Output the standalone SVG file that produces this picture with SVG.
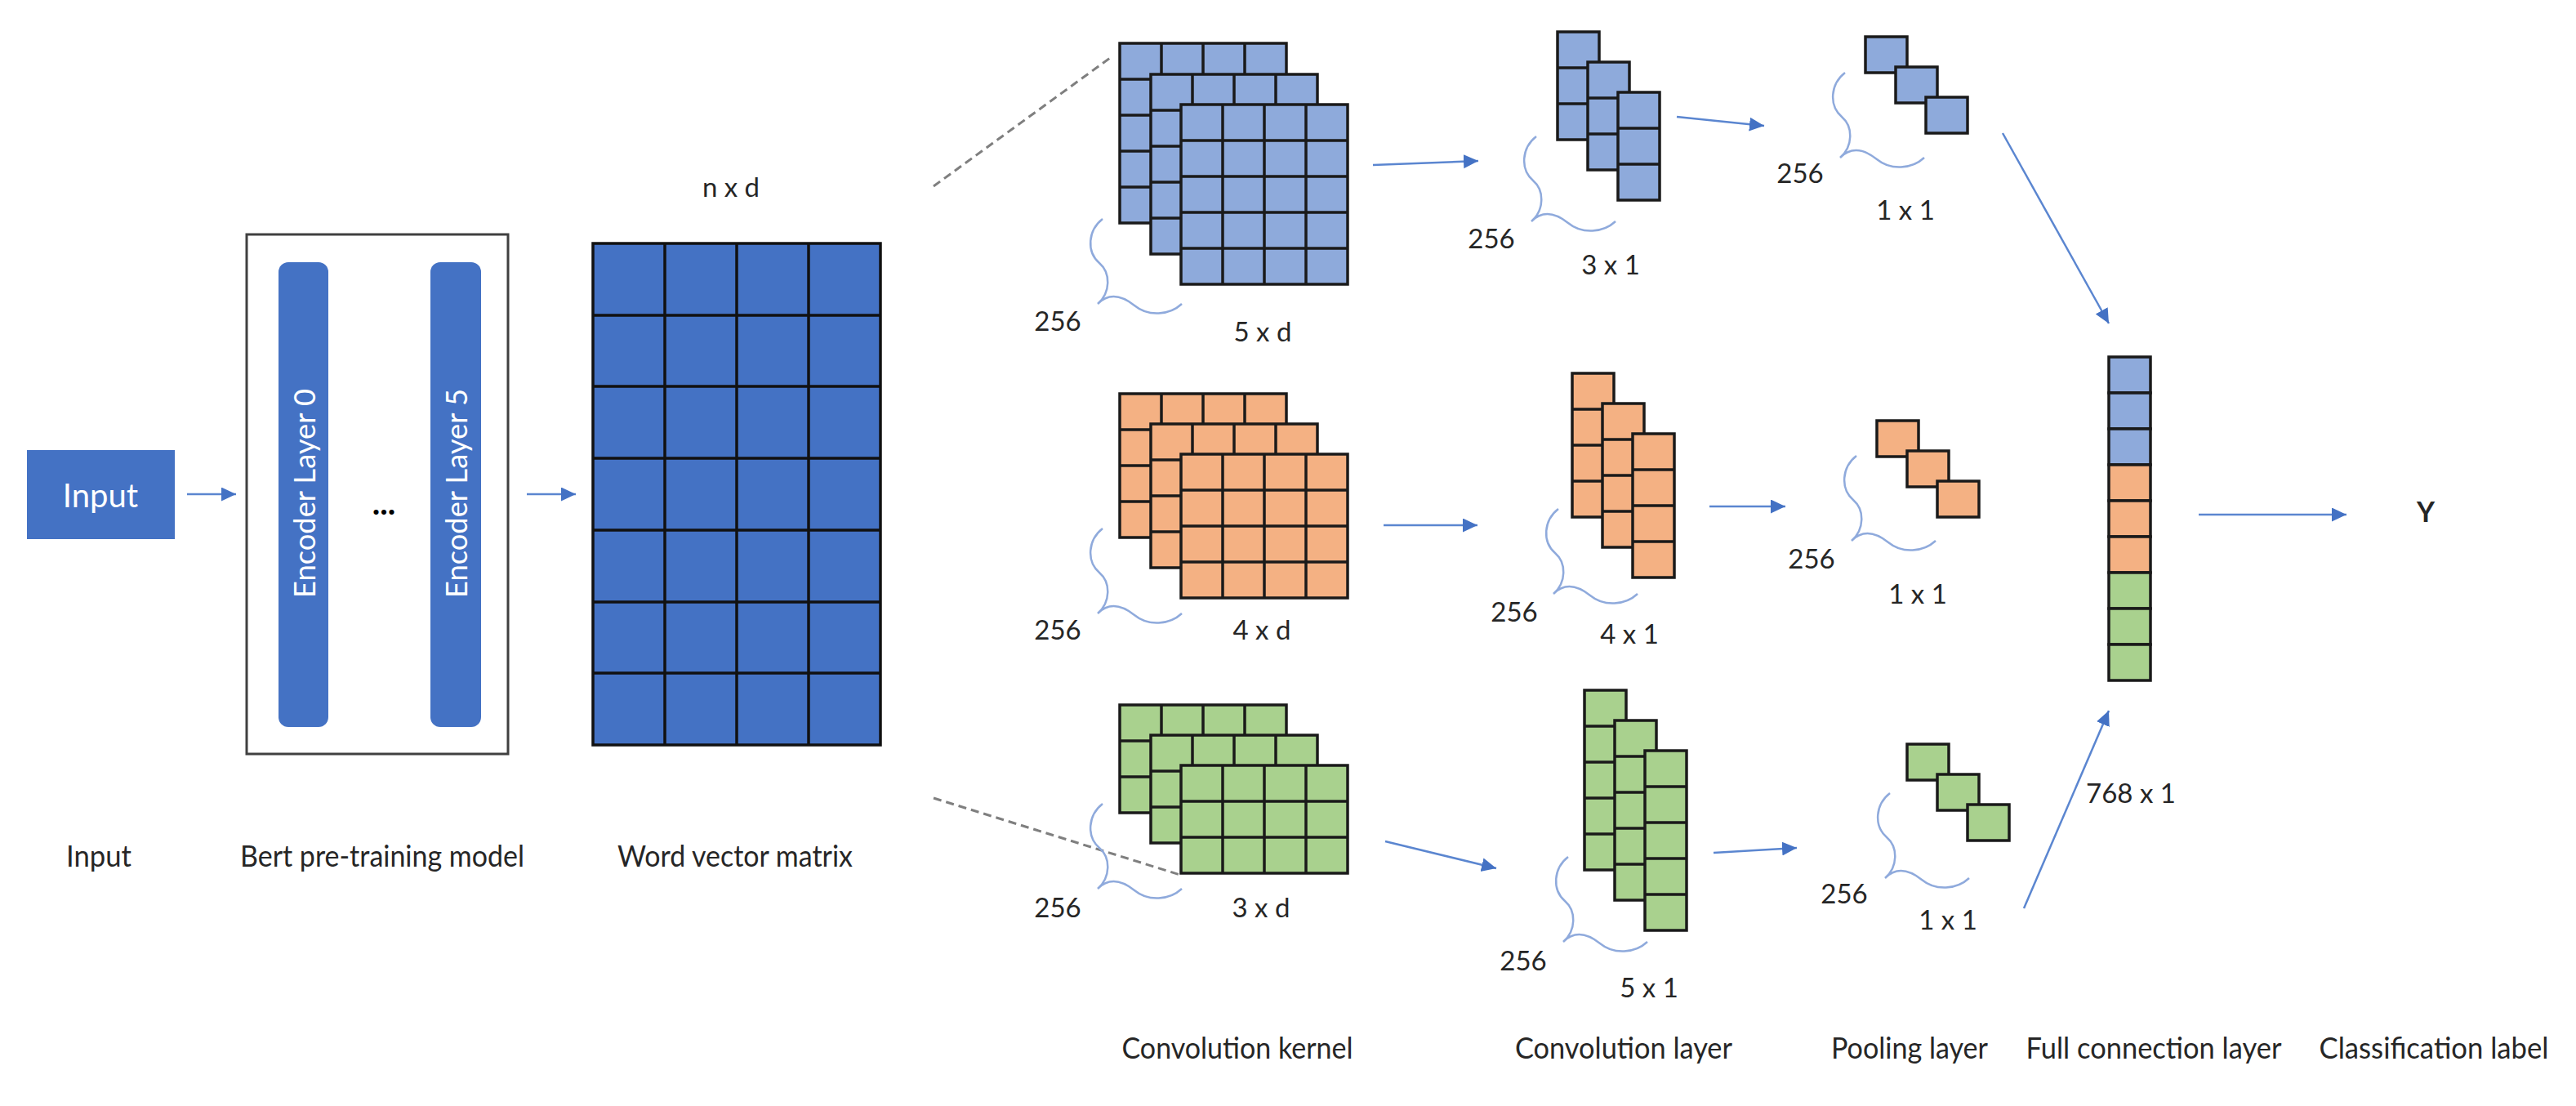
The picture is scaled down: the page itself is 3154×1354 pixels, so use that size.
<svg xmlns="http://www.w3.org/2000/svg" xmlns:xlink="http://www.w3.org/1999/xlink" width="3154" height="1354" viewBox="0 0 3154 1354">
<style>
text{font-family:Lato,"Open Sans","Liberation Sans",sans-serif;fill:#262626}
.lbl{font-size:36px;text-anchor:middle}
.num{font-size:33px;text-anchor:middle}
.wt{fill:#ffffff}
.cell{stroke:#1a1a1a;stroke-width:3.5}
.blue{fill:#8EAADB}
.orange{fill:#F4B183}
.green{fill:#A9D18E}
.conn{stroke:#5B86D0;stroke-width:2.5;fill:none}
.brace{stroke:#8FAADC;stroke-width:2.5;fill:none}
.dash{stroke:#7F7F7F;stroke-width:3;stroke-dasharray:10 6;fill:none}
</style>
<defs>
<marker id="ah" markerUnits="userSpaceOnUse" markerWidth="20" markerHeight="18" refX="18" refY="8.5" orient="auto">
<path d="M0,0 L18,8.5 L0,17 z" fill="#4472C4"/>
</marker>
<g id="k5" class="cell"><rect x="0" y="0" width="204" height="220"/><path d="M51,0V220M102,0V220M153,0V220M0,44H204M0,88H204M0,132H204M0,176H204"/></g>
<g id="k4" class="cell"><rect x="0" y="0" width="204" height="176"/><path d="M51,0V176M102,0V176M153,0V176M0,44H204M0,88H204M0,132H204"/></g>
<g id="k3" class="cell"><rect x="0" y="0" width="204" height="132"/><path d="M51,0V132M102,0V132M153,0V132M0,44H204M0,88H204"/></g>
<g id="c3" class="cell"><rect x="0" y="0" width="51" height="132"/><path d="M0,44H51M0,88H51"/></g>
<g id="c4" class="cell"><rect x="0" y="0" width="51" height="176"/><path d="M0,44H51M0,88H51M0,132H51"/></g>
<g id="c5" class="cell"><rect x="0" y="0" width="51" height="220"/><path d="M0,44H51M0,88H51M0,132H51M0,176H51"/></g>
<rect id="sq" class="cell" x="0" y="0" width="51" height="44"/>
<path id="br" class="brace" d="M6,-104 C-12,-90 -14,-64 2,-50 C16,-38 16,-14 0,0 C14,-14 30,-10 45,2 C62,16 88,14 103,0"/>
</defs>

<g id="connectors">
<line class="conn" x1="229" y1="605" x2="289" y2="605" marker-end="url(#ah)"/>
<line class="conn" x1="645" y1="605" x2="705" y2="605" marker-end="url(#ah)"/>
<line class="conn" x1="1681" y1="202" x2="1810" y2="197" marker-end="url(#ah)"/>
<line class="conn" x1="1694" y1="643" x2="1809" y2="643" marker-end="url(#ah)"/>
<line class="conn" x1="1696" y1="1030" x2="1832" y2="1063" marker-end="url(#ah)"/>
<line class="conn" x1="2053" y1="143" x2="2160" y2="154" marker-end="url(#ah)"/>
<line class="conn" x1="2093" y1="620" x2="2186" y2="620" marker-end="url(#ah)"/>
<line class="conn" x1="2098" y1="1044" x2="2200" y2="1038" marker-end="url(#ah)"/>
<line class="conn" x1="2452" y1="163" x2="2582" y2="396" marker-end="url(#ah)"/>
<line class="conn" x1="2478" y1="1112" x2="2582" y2="870" marker-end="url(#ah)"/>
<line class="conn" x1="2692" y1="630" x2="2873" y2="630" marker-end="url(#ah)"/>
<line class="dash" x1="1143" y1="228" x2="1359" y2="71"/>
<line class="dash" x1="1143" y1="977" x2="1445" y2="1071"/>
</g>

<g id="input">
<rect x="33" y="551" width="181" height="109" fill="#4472C4"/>
<text class="wt" x="123" y="621" font-size="40" text-anchor="middle">Input</text>
</g>

<g id="bert">
<rect x="302" y="287" width="320" height="636" fill="none" stroke="#404040" stroke-width="3"/>
<rect x="341" y="321" width="61" height="569" rx="12" fill="#4472C4"/>
<rect x="527" y="321" width="62" height="569" rx="12" fill="#4472C4"/>
<text class="wt" transform="translate(386,604) rotate(-90)" font-size="37" text-anchor="middle" textLength="256" lengthAdjust="spacingAndGlyphs">Encoder Layer 0</text>
<text class="wt" transform="translate(572,604) rotate(-90)" font-size="37" text-anchor="middle" textLength="256" lengthAdjust="spacingAndGlyphs">Encoder Layer 5</text>
<text x="470" y="630" font-size="40" font-weight="bold" text-anchor="middle" style="fill:#000">...</text>
</g>

<g id="matrix">
<rect x="726" y="298" width="352" height="614" fill="#4472C4" stroke="#111" stroke-width="3.5"/>
<path d="M814,298V912M902,298V912M990,298V912M726,386H1078M726,473H1078M726,561H1078M726,649H1078M726,737H1078M726,824H1078" stroke="#111" stroke-width="3.5"/>
<text class="num" x="895" y="241">n x d</text>
</g>

<g id="kernel-blue">
<use xlink:href="#k5" href="#k5" x="1371" y="53" class="blue"/>
<use xlink:href="#k5" href="#k5" x="1409" y="91" class="blue"/>
<use xlink:href="#k5" href="#k5" x="1446" y="128" class="blue"/>
<use xlink:href="#br" href="#br" x="1344" y="372"/>
<text class="num" x="1295" y="405">256</text>
<text class="num" x="1546" y="418">5 x d</text>
</g>
<g id="kernel-orange">
<use xlink:href="#k4" href="#k4" x="1371" y="482" class="orange"/>
<use xlink:href="#k4" href="#k4" x="1409" y="519" class="orange"/>
<use xlink:href="#k4" href="#k4" x="1446" y="556" class="orange"/>
<use xlink:href="#br" href="#br" x="1344" y="751"/>
<text class="num" x="1295" y="783">256</text>
<text class="num" x="1545" y="783">4 x d</text>
</g>
<g id="kernel-green">
<use xlink:href="#k3" href="#k3" x="1371" y="863" class="green"/>
<use xlink:href="#k3" href="#k3" x="1409" y="900" class="green"/>
<use xlink:href="#k3" href="#k3" x="1446" y="937" class="green"/>
<use xlink:href="#br" href="#br" x="1344" y="1088"/>
<text class="num" x="1295" y="1123">256</text>
<text class="num" x="1544" y="1123">3 x d</text>
</g>

<g id="conv-blue">
<use xlink:href="#c3" href="#c3" x="1907" y="39" class="blue"/>
<use xlink:href="#c3" href="#c3" x="1944" y="76" class="blue"/>
<use xlink:href="#c3" href="#c3" x="1981" y="113" class="blue"/>
<use xlink:href="#br" href="#br" x="1875" y="271"/>
<text class="num" x="1826" y="304">256</text>
<text class="num" x="1972" y="336">3 x 1</text>
</g>
<g id="conv-orange">
<use xlink:href="#c4" href="#c4" x="1925" y="457" class="orange"/>
<use xlink:href="#c4" href="#c4" x="1962" y="494" class="orange"/>
<use xlink:href="#c4" href="#c4" x="1999" y="531" class="orange"/>
<use xlink:href="#br" href="#br" x="1902" y="727"/>
<text class="num" x="1854" y="761">256</text>
<text class="num" x="1995" y="788">4 x 1</text>
</g>
<g id="conv-green">
<use xlink:href="#c5" href="#c5" x="1940" y="845" class="green"/>
<use xlink:href="#c5" href="#c5" x="1977" y="882" class="green"/>
<use xlink:href="#c5" href="#c5" x="2014" y="919" class="green"/>
<use xlink:href="#br" href="#br" x="1914" y="1153"/>
<text class="num" x="1865" y="1188">256</text>
<text class="num" x="2019" y="1221">5 x 1</text>
</g>

<g id="pool-blue">
<use xlink:href="#sq" href="#sq" x="2284" y="45" class="blue"/>
<use xlink:href="#sq" href="#sq" x="2321" y="82" class="blue"/>
<use xlink:href="#sq" href="#sq" x="2358" y="119" class="blue"/>
<use xlink:href="#br" href="#br" x="2253" y="193"/>
<text class="num" x="2204" y="224">256</text>
<text class="num" x="2333" y="269">1 x 1</text>
</g>
<g id="pool-orange">
<use xlink:href="#sq" href="#sq" x="2298" y="515" class="orange"/>
<use xlink:href="#sq" href="#sq" x="2335" y="552" class="orange"/>
<use xlink:href="#sq" href="#sq" x="2372" y="589" class="orange"/>
<use xlink:href="#br" href="#br" x="2267" y="662"/>
<text class="num" x="2218" y="696">256</text>
<text class="num" x="2348" y="739">1 x 1</text>
</g>
<g id="pool-green">
<use xlink:href="#sq" href="#sq" x="2335" y="911" class="green"/>
<use xlink:href="#sq" href="#sq" x="2372" y="948" class="green"/>
<use xlink:href="#sq" href="#sq" x="2409" y="985" class="green"/>
<use xlink:href="#br" href="#br" x="2308" y="1075"/>
<text class="num" x="2258" y="1106">256</text>
<text class="num" x="2385" y="1138">1 x 1</text>
</g>

<g id="full-connection">
<use xlink:href="#sq" href="#sq" x="2582" y="437" class="blue"/>
<use xlink:href="#sq" href="#sq" x="2582" y="481" class="blue"/>
<use xlink:href="#sq" href="#sq" x="2582" y="525" class="blue"/>
<use xlink:href="#sq" href="#sq" x="2582" y="569" class="orange"/>
<use xlink:href="#sq" href="#sq" x="2582" y="613" class="orange"/>
<use xlink:href="#sq" href="#sq" x="2582" y="657" class="orange"/>
<use xlink:href="#sq" href="#sq" x="2582" y="701" class="green"/>
<use xlink:href="#sq" href="#sq" x="2582" y="745" class="green"/>
<use xlink:href="#sq" href="#sq" x="2582" y="789" class="green"/>
<text class="num" x="2609" y="983" font-size="36">768 x 1</text>
</g>

<g id="output">
<text x="2970" y="639" font-size="34" font-weight="bold" text-anchor="middle">Y</text>
</g>

<g id="labels">
<text class="lbl" x="121" y="1061" textLength="80" lengthAdjust="spacingAndGlyphs">Input</text>
<text class="lbl" x="468" y="1061" textLength="348" lengthAdjust="spacingAndGlyphs">Bert pre-training model</text>
<text class="lbl" x="900" y="1061" textLength="288" lengthAdjust="spacingAndGlyphs">Word vector matrix</text>
<text class="lbl" x="1515" y="1296" textLength="283" lengthAdjust="spacingAndGlyphs">Convolution kernel</text>
<text class="lbl" x="1988" y="1296" textLength="266" lengthAdjust="spacingAndGlyphs">Convolution layer</text>
<text class="lbl" x="2338" y="1296" textLength="192" lengthAdjust="spacingAndGlyphs">Pooling layer</text>
<text class="lbl" x="2637" y="1296" textLength="313" lengthAdjust="spacingAndGlyphs">Full connection layer</text>
<text class="lbl" x="2980" y="1296" textLength="281" lengthAdjust="spacingAndGlyphs">Classification label</text>
</g>
</svg>
